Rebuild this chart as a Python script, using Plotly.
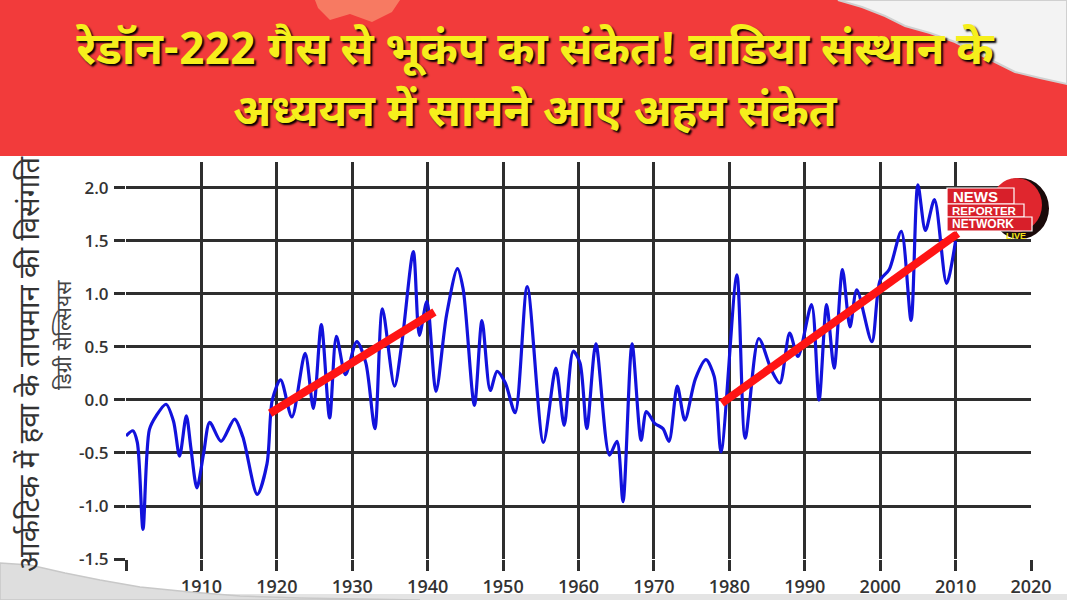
import plotly.graph_objects as go

# arctic air temperature anomaly (deg C)
years = [1900.0, 1900.9, 1901.5, 1902.25, 1903.1, 1904.0, 1905.3, 1906.3, 1907.1, 1908.0,
         1908.6, 1909.4, 1910.3, 1911.1, 1912.6, 1914.4, 1915.5, 1917.4, 1918.7, 1919.4,
         1920.5, 1922.0, 1923.75, 1924.85, 1925.9, 1927.0, 1927.9, 1929.1, 1930.6, 1931.8,
         1933.0, 1934.0, 1935.6, 1936.6, 1938.1, 1938.9, 1939.9, 1941.1, 1942.5, 1943.95,
         1944.7, 1946.2, 1947.2, 1948.3, 1949.2, 1950.3, 1951.6, 1953.2, 1955.35, 1957.0,
         1958.1, 1959.3, 1960.2, 1961.1, 1962.3, 1964.1, 1965.1, 1965.9, 1967.1, 1968.3,
         1969.0, 1970.1, 1971.2, 1972.0, 1973.1, 1974.1, 1975.5, 1976.9, 1978.0, 1978.9,
         1981.0, 1982.1, 1983.9, 1985.6, 1986.7, 1988.0, 1989.1, 1990.9, 1991.9, 1992.9,
         1993.9, 1995.0, 1996.0, 1996.9, 1998.9, 2000.0, 2001.2, 2002.8, 2004.1, 2005.0,
         2006.0, 2007.2, 2008.8, 2010.0]
anomaly = [-0.34, -0.29, -0.40, -1.22, -0.28, -0.15, -0.04, -0.20, -0.53, -0.15,
           -0.45, -0.83, -0.50, -0.21, -0.39, -0.18, -0.35, -0.89, -0.60, 0.0,
           0.19, -0.16, 0.44, -0.08, 0.71, -0.17, 0.60, 0.24, 0.55, 0.35,
           -0.27, 0.86, 0.13, 0.55, 1.40, 0.61, 0.93, 0.08, 0.80, 1.24,
           1.05, -0.05, 0.75, 0.09, 0.27, 0.16, -0.12, 1.07, -0.40, 0.30,
           -0.24, 0.46, 0.35, -0.27, 0.53, -0.52, -0.39, -0.96, 0.53, -0.38,
           -0.11, -0.22, -0.27, -0.39, 0.13, -0.19, 0.20, 0.38, 0.22, -0.49,
           1.18, -0.36, 0.58, 0.28, 0.16, 0.63, 0.41, 0.90, 0.0, 0.90,
           0.30, 1.23, 0.69, 1.04, 0.55, 1.13, 1.23, 1.59, 0.75, 2.03,
           1.60, 1.89, 1.10, 1.50]

# the two red trend segments
trend1_x = [1919.1, 1940.9]
trend1_y = [-0.125, 0.83]
trend2_x = [1979.0, 2010.3]
trend2_y = [-0.03, 1.57]

x_ticks = list(range(1900, 2021, 10))
x_labels = [''] + [str(y) for y in x_ticks[1:]]
y_ticks = [-1.5, -1.0, -0.5, 0.0, 0.5, 1.0, 1.5, 2.0]
y_labels = ['-1.5', '-1.0', '-0.5', '0.0', '0.5', '1.0', '1.5', '2.0']

title_1 = 'रेडॉन-222 गैस से भूकंप का संकेत! वाडिया संस्थान के'
title_2 = 'अध्ययन में सामने आए अहम संकेत'
ytitle_1 = 'आर्कटिक में हवा के तापमान की विसंगति'
ytitle_2 = 'डिग्री सेल्सियस'

W, H = 1067, 600
X0, X1, Y0, Y1 = 126, 1031, 162, 559   # plot area in pixels


def fx(p):
    return (p - X0) / (X1 - X0)


def fy(p):
    return (Y1 - p) / (Y1 - Y0)


def path(pts):
    s = 'M ' + ' L '.join('%.4f,%.4f' % (fx(a), fy(b)) for a, b in pts)
    return s + ' Z'


def note(text, x, y, size, color, family, weight='normal', angle=0, xanchor='center', shadow=None):
    f = dict(family=family, size=size, color=color, weight=weight)
    if shadow:
        f['shadow'] = shadow
    return dict(text=text, x=fx(x), y=fy(y), xref='paper', yref='paper', showarrow=False,
                xanchor=xanchor, yanchor='middle', textangle=angle, font=f)


DEVA = 'Noto Sans Devanagari, Noto Sans, Lohit Devanagari, sans-serif'

fig = go.Figure()
fig.add_trace(go.Scatter(x=years, y=anomaly, mode='lines',
                         line=dict(color='#1212dc', width=3.2, shape='spline', smoothing=0.8),
                         showlegend=False, hoverinfo='skip'))
fig.add_trace(go.Scatter(x=trend1_x, y=trend1_y, mode='lines',
                         line=dict(color='#ff1414', width=8),
                         showlegend=False, hoverinfo='skip'))
fig.add_trace(go.Scatter(x=trend2_x, y=trend2_y, mode='lines',
                         line=dict(color='#ff1414', width=8),
                         showlegend=False, hoverinfo='skip'))

shapes = []
# red banner
shapes.append(dict(type='rect', xref='paper', yref='paper', layer='above',
                   x0=fx(0), x1=fx(W), y0=fy(0), y1=fy(156),
                   fillcolor='#f23b3b', line=dict(width=0)))
# faint splash at the top
shapes.append(dict(type='path', xref='paper', yref='paper', layer='above',
                   path=path([(315, 0), (400, 0), (392, 12), (372, 22), (350, 14), (330, 20), (318, 8)]),
                   fillcolor='#f77a62', line=dict(width=0)))
# torn paper, top right
shapes.append(dict(type='path', xref='paper', yref='paper', layer='above',
                   path=path([(838, 0), (862, 7), (885, 16), (905, 26), (930, 33), (955, 42),
                              (975, 52), (995, 62), (1015, 72), (1040, 78), (1067, 84), (1067, 0)]),
                   fillcolor='#f3f3f3', line=dict(color='#d0d0d0', width=2)))
# bottom grey strip and torn paper, bottom left
shapes.append(dict(type='rect', xref='paper', yref='paper', layer='above',
                   x0=fx(0), x1=fx(W), y0=fy(H), y1=fy(594),
                   fillcolor='#e4e4e4', line=dict(width=0)))
shapes.append(dict(type='path', xref='paper', yref='paper', layer='above',
                   path=path([(0, 563), (30, 565), (65, 573), (100, 580), (140, 587), (190, 592),
                              (240, 596), (300, 598), (420, 600), (0, 600)]),
                   fillcolor='#dedede', line=dict(color='#c8c8c8', width=1.5)))
# logo
shapes.append(dict(type='circle', xref='paper', yref='paper', layer='above',
                   x0=fx(991), x1=fx(1049), y0=fy(239), y1=fy(178),
                   fillcolor='#1a0a0a', line=dict(width=0)))
shapes.append(dict(type='circle', xref='paper', yref='paper', layer='above',
                   x0=fx(991), x1=fx(1042), y0=fy(232), y1=fy(178),
                   fillcolor='#e0262e', line=dict(width=0)))
for top, bot, right in [(188, 204, 1014), (204, 217, 1024), (217, 231, 1032)]:
    shapes.append(dict(type='rect', xref='paper', yref='paper', layer='above',
                       x0=fx(947), x1=fx(right), y0=fy(bot), y1=fy(top),
                       fillcolor='#d81f2a', line=dict(color='white', width=1.2)))

annotations = [
    note(title_1, 535, 52, 45, '#f6ef1c', DEVA, 'bold', shadow='2px 2px 2px #000'),
    note(title_2, 535, 114, 45, '#f6ef1c', DEVA, 'bold', shadow='2px 2px 2px #000'),
    note(ytitle_1, 32, 364, 29, '#333333', DEVA, angle=-90),
    note(ytitle_2, 66, 335, 21, '#444444', DEVA, angle=-90),
    note('NEWS', 951, 196, 15, 'white', 'Liberation Sans', 'bold', xanchor='left'),
    note('REPORTER', 950, 211, 11.5, 'white', 'Liberation Sans', 'bold', xanchor='left'),
    note('NETWORK', 950, 224, 12, 'white', 'Liberation Sans', 'bold', xanchor='left'),
    note('LIVE', 1016, 236, 9, '#f5e61a', 'Liberation Sans', 'bold'),
]

fig.update_layout(
    width=W, height=H,
    margin=dict(l=X0, r=W - X1, t=Y0, b=H - Y1, pad=0, autoexpand=False),
    paper_bgcolor='white', plot_bgcolor='white',
    shapes=shapes, annotations=annotations,
    showlegend=False,
)
fig.update_xaxes(range=[1900, 2020], tickvals=x_ticks, ticktext=x_labels, automargin=False,
                 showgrid=True, gridcolor='#2e2e2e', gridwidth=2.5, zeroline=False,
                 showline=False, ticks='outside', ticklen=11, tickwidth=2.5, tickcolor='#2e2e2e',
                 ticklabelstandoff=0,
                 tickfont=dict(family='Open Sans', size=18, color='#333333', weight=600))
fig.update_yaxes(range=[-1.5, 2.245], tickvals=y_ticks, ticktext=y_labels, automargin=False,
                 showgrid=True, gridcolor='#2e2e2e', gridwidth=2.5, zeroline=False,
                 showline=False, ticks='outside', ticklen=11, tickwidth=2.5, tickcolor='#2e2e2e',
                 ticklabelstandoff=2,
                 tickfont=dict(family='Open Sans', size=17, color='#333333', weight=600))

fig.write_html('out.html', config={'displayModeBar': False},
               post_script="document.body.style.margin='0px';")
